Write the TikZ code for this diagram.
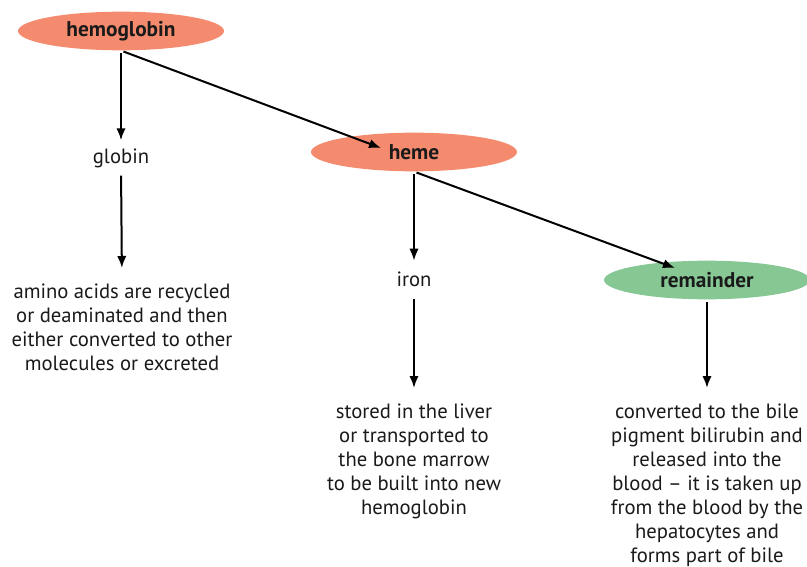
\documentclass[tikz,border=0pt]{standalone}
\usepackage{fontspec}
\setmainfont{PT Sans}
\usetikzlibrary{shapes.geometric,arrows.meta}
\definecolor{salmon}{HTML}{F48B6E}
\definecolor{leaf}{HTML}{86C794}
\definecolor{ink}{HTML}{1A1A1A}
\begin{document}
\begin{tikzpicture}[x=0.75pt,y=-0.75pt,
  oval/.style={ellipse,minimum width=154.5pt,minimum height=29pt,inner sep=0pt,font=\fontsize{16}{18}\selectfont\bfseries,text=ink},
  label/.style={inner sep=0pt,outer sep=0pt,align=center,font=\fontsize{15.5}{18}\selectfont,text=ink,text height=11pt,text depth=3.5pt},
  para/.style={inner sep=0pt,outer sep=0pt,align=center,font=\fontsize{15.5}{18}\selectfont,text=ink,anchor=north},
  link/.style={line width=1.5pt,-{Latex[length=9pt,width=7pt]}}]
\useasboundingbox (0,0) rectangle (807,567);
\node[oval,fill=salmon] (hemo) at (121,31) {hemoglobin};
\node[oval,fill=salmon] (heme) at (414,152) {heme};
\node[oval,fill=leaf] (rem) at (707,280) {remainder};
\node[label] (globin) at (121,158) {globin};
\node[label] (iron) at (414,281) {iron};
\node[para] (amino) at (122,284) {amino acids are recycled\\or deaminated and then\\either converted to other\\molecules or excreted};
\node[para] (stored) at (414,404) {stored in the liver\\or transported to\\the bone marrow\\to be built into new\\hemoglobin};
\node[para] (conv) at (707,404) {converted to the bile\\pigment bilirubin and\\released into the\\blood – it is taken up\\from the blood by the\\hepatocytes and\\forms part of bile};
\draw[link,shorten <=2pt,shorten >=6pt] (hemo.south) -- (globin.north);
\draw[link,shorten <=2pt] (hemo.south) -- ([shift={(-33,-4)}]heme.center);
\draw[link,shorten <=6pt,shorten >=12pt] (globin.south) -- (amino.north);
\draw[link,shorten <=2pt,shorten >=8pt] (heme.south) -- (iron.north);
\draw[link,shorten <=2pt] (heme.south) -- ([shift={(-32,-12)}]rem.center);
\draw[link,shorten <=6pt,shorten >=12pt] (iron.south) -- (stored.north);
\draw[link,shorten <=2pt,shorten >=12pt] (rem.south) -- (conv.north);
\end{tikzpicture}
\end{document}
